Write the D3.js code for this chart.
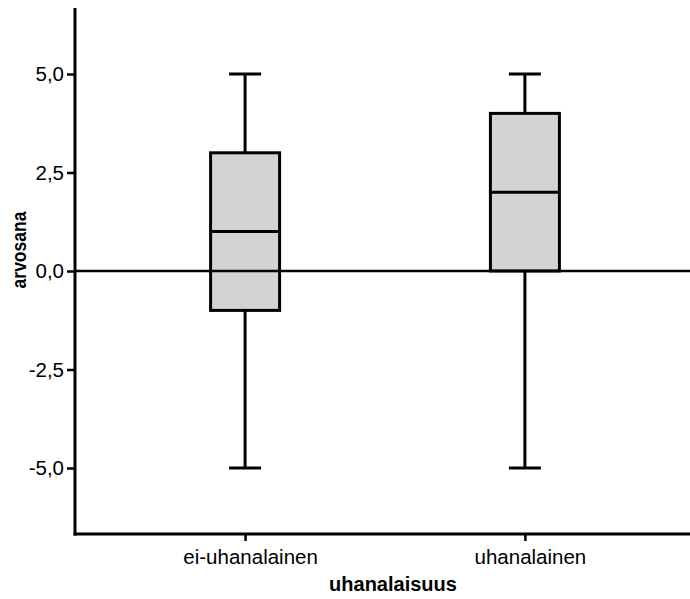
<!DOCTYPE html>
<html>
<head>
<meta charset="utf-8">
<script src="https://cdn.jsdelivr.net/npm/d3@7"></script>
<style>
  body { margin: 0; background: #fff; }
  text { font-family: "Liberation Sans", Arial, sans-serif; }
</style>
</head>
<body>
<div id="chart"></div>
<script>
const w = 690;
const h = 599;

// box plot values per group
const categories = ['ei-uhanalainen', 'uhanalainen'];
const whiskerLow = [-5.0, -5.0];
const q1 = [-1.0, 0.0];
const median = [1.0, 2.0];
const q3 = [3.0, 4.0];
const whiskerHigh = [5.0, 5.0];
const yTicks = [-5, -2.5, 0, 2.5, 5];

const padLeft = 75;
const padTop = 8;
const axisBottom = 534;
const padRight = 690;

const svg = d3.select('#chart')
    .append('svg')
    .attr('width', w)
    .attr('height', h);

const yScale = d3.scaleLinear()
    .domain([-6.675, 6.675])
    .range([axisBottom, padTop]);

const xScale = d3.scalePoint()
    .domain(categories)
    .range([80, 690])
    .padding(0.59);

const fmt = d3.formatLocale({decimal: ',', thousands: ' ', grouping: [3], currency: ['', ''], minus: '-'}).format('.1f');

// y axis
const yAxis = svg.append('g')
    .attr('transform', 'translate(' + padLeft + ',0)')
    .call(d3.axisLeft(yScale).tickValues(yTicks).tickFormat(fmt).tickSize(8).tickSizeOuter(0).tickPadding(3));
yAxis.select('.domain').remove();
yAxis.selectAll('line').attr('stroke', '#000').attr('stroke-width', 2.5);
yAxis.selectAll('text').attr('font-size', 20.5).attr('fill', '#000')
    .attr('font-family', '"Liberation Sans", Arial, sans-serif');

// x axis
const xAxis = svg.append('g')
    .attr('transform', 'translate(0,' + axisBottom + ')')
    .call(d3.axisBottom(xScale).tickSize(7).tickSizeOuter(0).tickPadding(8));
xAxis.select('.domain').remove();
xAxis.selectAll('line').attr('stroke', '#000').attr('stroke-width', 2.5);
xAxis.selectAll('text').attr('font-size', 20.5).attr('fill', '#000').attr('dx', 5)
    .attr('font-family', '"Liberation Sans", Arial, sans-serif');

// axis lines
svg.append('line')
    .attr('x1', padLeft).attr('x2', padLeft)
    .attr('y1', padTop).attr('y2', axisBottom + 1.5)
    .attr('stroke', '#000').attr('stroke-width', 3);
svg.append('line')
    .attr('x1', padLeft - 1.5).attr('x2', padRight)
    .attr('y1', axisBottom).attr('y2', axisBottom)
    .attr('stroke', '#000').attr('stroke-width', 3);

const boxW = 69;
const capW = 32;

const groups = svg.selectAll('.box')
    .data(categories)
    .enter()
    .append('g')
    .attr('class', 'box');

// whiskers
groups.append('line')
    .attr('x1', d => xScale(d)).attr('x2', d => xScale(d))
    .attr('y1', (d, i) => yScale(whiskerHigh[i]))
    .attr('y2', (d, i) => yScale(whiskerLow[i]))
    .attr('stroke', '#000').attr('stroke-width', 3);

groups.append('line')
    .attr('x1', d => xScale(d) - capW / 2).attr('x2', d => xScale(d) + capW / 2)
    .attr('y1', (d, i) => yScale(whiskerHigh[i]))
    .attr('y2', (d, i) => yScale(whiskerHigh[i]))
    .attr('stroke', '#000').attr('stroke-width', 3);

groups.append('line')
    .attr('x1', d => xScale(d) - capW / 2).attr('x2', d => xScale(d) + capW / 2)
    .attr('y1', (d, i) => yScale(whiskerLow[i]))
    .attr('y2', (d, i) => yScale(whiskerLow[i]))
    .attr('stroke', '#000').attr('stroke-width', 3);

groups.append('rect')
    .attr('x', d => xScale(d) - boxW / 2)
    .attr('width', boxW)
    .attr('y', (d, i) => yScale(q3[i]))
    .attr('height', (d, i) => yScale(q1[i]) - yScale(q3[i]))
    .attr('fill', '#d3d3d3')
    .attr('stroke', '#000')
    .attr('stroke-width', 3);

groups.append('line')
    .attr('x1', d => xScale(d) - boxW / 2).attr('x2', d => xScale(d) + boxW / 2)
    .attr('y1', (d, i) => yScale(median[i]))
    .attr('y2', (d, i) => yScale(median[i]))
    .attr('stroke', '#000').attr('stroke-width', 3);

// reference line at zero
svg.append('line')
    .attr('x1', padLeft).attr('x2', padRight)
    .attr('y1', yScale(0)).attr('y2', yScale(0))
    .attr('stroke', '#000').attr('stroke-width', 2.5);

// axis titles
svg.append('text')
    .attr('x', 393)
    .attr('y', 591)
    .attr('text-anchor', 'middle')
    .attr('font-size', 20)
    .attr('font-weight', 'bold')
    .text('uhanalaisuus');

svg.append('text')
    .attr('transform', 'translate(26,250) rotate(-90) scale(1,1.15)')
    .attr('text-anchor', 'middle')
    .attr('font-size', 17.5)
    .attr('font-weight', 'bold')
    .text('arvosana');
</script>
</body>
</html>
